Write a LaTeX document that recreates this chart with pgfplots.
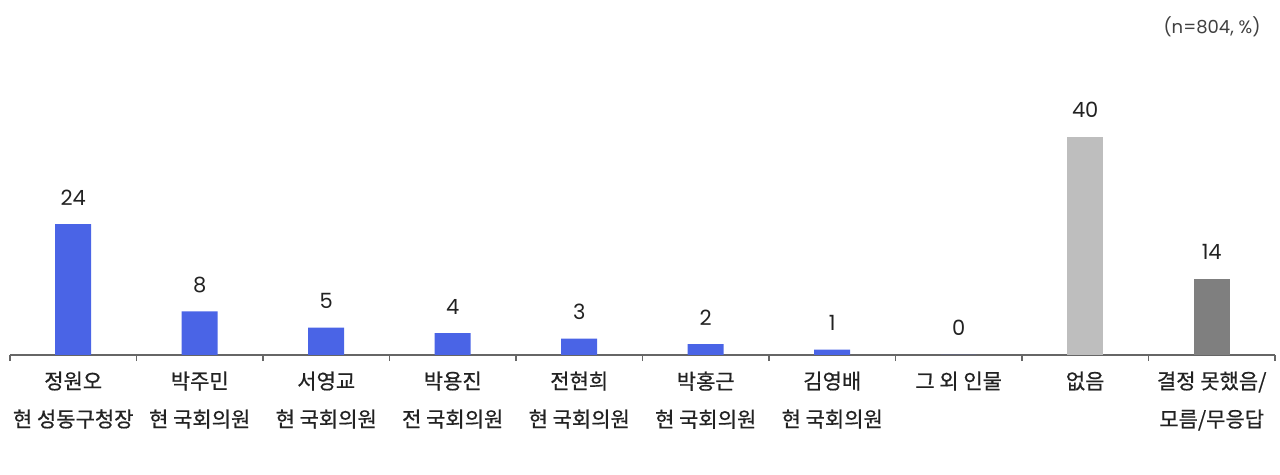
\documentclass[border=0pt]{standalone}
\usepackage{fontspec}
\setmainfont{Noto Sans CJK KR}
\newfontfamily\lblfont{Noto Sans CJK KR}[FakeBold=0.6]
\newfontfamily\numfont{Poppins}
\usepackage{pgfplots}
\pgfplotsset{compat=1.18}
\definecolor{barblue}{HTML}{4A64E6}
\definecolor{lgray}{HTML}{BEBEBE}
\definecolor{dgray}{HTML}{7F7F7F}
\definecolor{txt}{HTML}{222222}
\begin{document}
\begin{tikzpicture}[x=1pt,y=1pt]
\useasboundingbox (0,0) rectangle (1280,474);
\begin{axis}[
  at={(10pt,119pt)}, anchor=south west,
  scale only axis, width=1265pt, height=218pt,
  xmin=-0.5, xmax=9.5, ymin=0, ymax=40,
  axis x line*=bottom, axis y line=none,
  x axis line style={draw=black!60, line width=1.2pt, -},
  xtick={0,...,9}, major tick length=0pt,
  minor xtick={-0.5,0.5,...,9.5},
  minor tick length=6pt, tick align=outside,
  minor tick style={draw=black!60, line width=1.2pt},
  xticklabels={{정원오\\현 성동구청장},{박주민\\현 국회의원},{서영교\\현 국회의원},{박용진\\전 국회의원},{전현희\\현 국회의원},{박홍근\\현 국회의원},{김영배\\현 국회의원},{그 외 인물},{없음},{결정 못했음/\\모름/무응답}},
  xticklabel style={align=center, font=\lblfont\fontsize{21}{38}\selectfont, text=txt, anchor=north, yshift=-13pt},
  ybar, bar width=36pt, bar shift=0pt,
  nodes near coords,
  /pgf/number format/assume math mode=true,
  every node near coord/.append style={font=\numfont\fontsize{21}{24}\selectfont, text=txt, anchor=base, yshift=19pt},
  clip=false,
]
\addplot[draw=none, fill=barblue] coordinates {(0,24) (1,8) (2,5) (3,4) (4,3) (5,2) (6,1) (7,0)};
\addplot[draw=none, fill=lgray] coordinates {(8,40)};
\addplot[draw=none, fill=dgray] coordinates {(9,14)};
\end{axis}
\node[anchor=base, font=\numfont\fontsize{18}{20}\selectfont, text=black!75] at (1212,440) {(n=804,\ \%)};
\end{tikzpicture}
\end{document}
